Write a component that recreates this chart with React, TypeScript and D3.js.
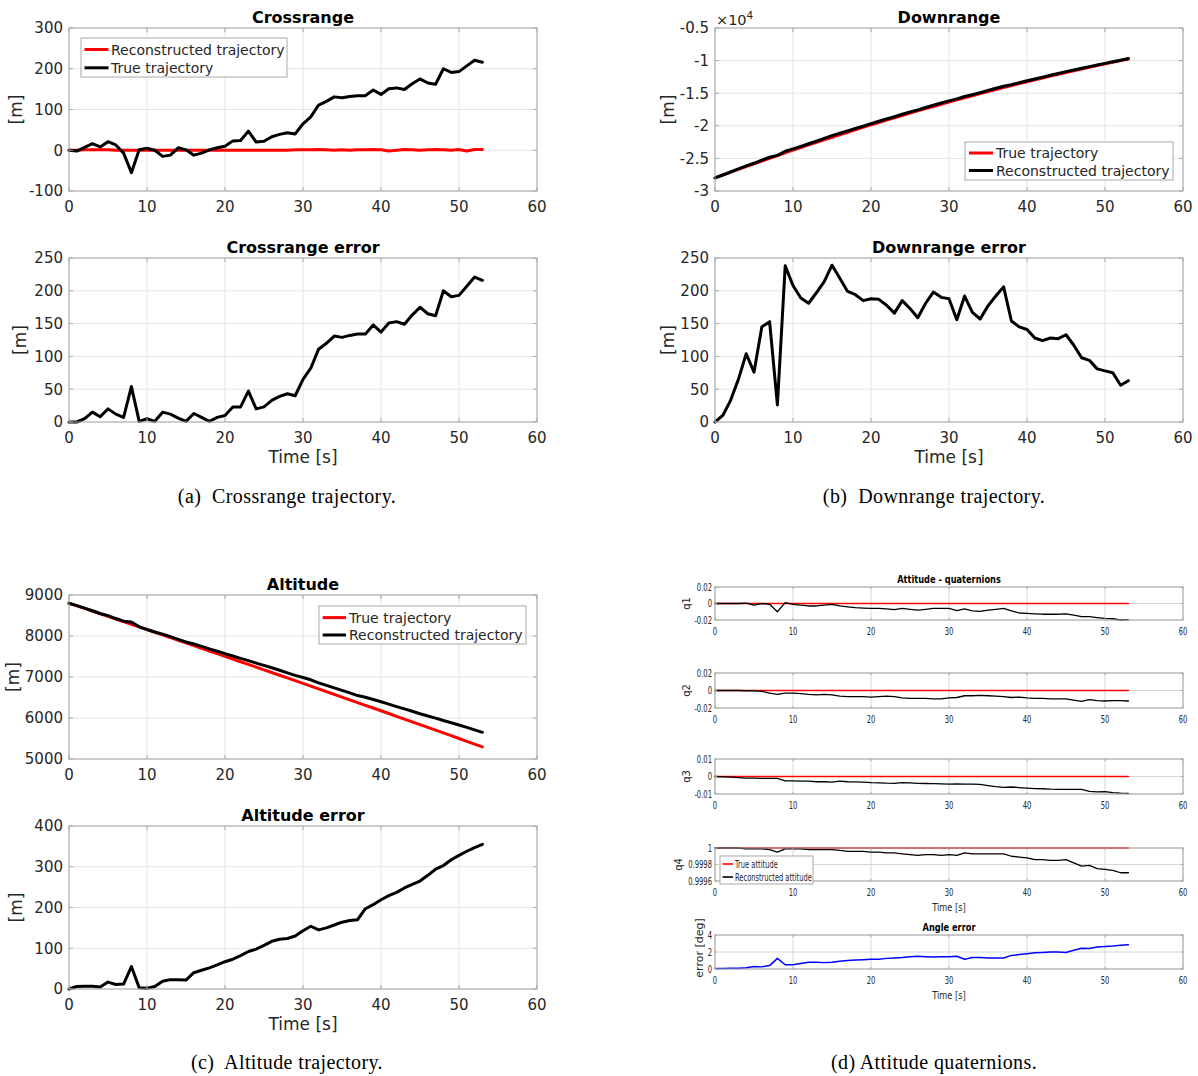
import React from "react";
import * as d3 from "d3";

// ---------------- DATA ----------------
const time = d3.range(0, 54); // seconds 0..53
const xTicks = [0, 10, 20, 30, 40, 50, 60];

const crossTrue = [0,-2,7,16,8,21,13,-7,-55,1, 5,0,-15,-12,6,1,-12,-7,1,6, 10,23,24,47,20,22,33,39,43,40, 65,82,111,120,131,129,132,134,134,148, 137,151,153,149,163,175,165,162,200,191, 193,207,221,216];
const crossRecon = [0,0,1,1,1,1,0,0,0,0, 0,0,0,0,0,0,0,0,0,0, 0,0,0,0,0,0,0,0,0,1, 1,1,2,1,0,1,0,1,1,2, 1,-2,0,2,1,0,1,2,1,0, 2,-2,2,2];
const crossErr = [0,0,5,15,8,20,12,7,54,1, 5,1,15,12,6,1,13,7,1,7, 10,23,23,47,20,23,33,39,43,40, 65,82,111,120,131,129,132,134,134,148, 137,151,153,149,163,175,165,162,200,191, 193,207,221,216];

const downTrue = [-28000,-27557,-27118,-26682,-26250,-25822,-25398,-24978,-24562,-24149, -23740,-23335,-22934,-22536,-22142,-21752,-21366,-20984,-20606,-20231, -19860,-19493,-19130,-18770,-18414,-18062,-17714,-17370,-17030,-16693, -16360,-16031,-15706,-15384,-15066,-14752,-14442,-14136,-13834,-13535, -13240,-12949,-12662,-12378,-12098,-11822,-11550,-11282,-11018,-10757, -10500,-10247,-9998,-9752];
const downRecon = [-28000,-27547,-27085,-26617,-26146,-25746,-25253,-24825,-24536,-23911, -23532,-23146,-22753,-22339,-21928,-21513,-21147,-20785,-20412,-20046, -19672,-19306,-18952,-18604,-18229,-17889,-17555,-17189,-16832,-16503, -16172,-15875,-15514,-15217,-14909,-14575,-14250,-13930,-13680,-13390, -13099,-12821,-12538,-12250,-11971,-11689,-11433,-11184,-10924,-10676, -10422,-10172,-9942,-9689];
const downErr = [0,10,33,65,104,76,145,153,26,238, 208,189,181,197,214,239,219,199,194,185, 188,187,178,166,185,173,159,181,198,190, 188,156,192,167,157,177,192,206,154,145, 141,128,124,128,127,133,117,98,94,81, 78,75,56,63];

const altTrue = [8800,8736,8672,8608,8543,8479,8415,8350,8285,8221, 8156,8091,8026,7961,7896,7831,7766,7700,7635,7570, 7504,7438,7373,7307,7241,7175,7109,7043,6977,6910, 6844,6778,6711,6644,6578,6511,6444,6377,6310,6243, 6176,6109,6041,5974,5907,5839,5771,5704,5636,5568, 5500,5432,5364,5296];
const altRecon = [8800,8742,8679,8615,8548,8496,8426,8362,8340,8224, 8158,8097,8045,7984,7919,7853,7806,7746,7687,7629, 7571,7511,7455,7399,7339,7282,7226,7165,7101,7040, 6987,6932,6856,6794,6735,6675,6612,6547,6507,6450, 6395,6338,6278,6222,6164,6104,6050,5998,5939,5885, 5828,5770,5711,5651];
const altErr = [0,6,7,7,5,17,11,12,55,3, 2,6,19,23,23,22,40,46,52,59, 67,73,82,92,98,107,117,122,124,130, 143,154,145,150,157,164,168,170,197,207, 219,229,237,248,257,265,279,294,303,317, 328,338,347,355];

const trueAttitude = [0, 0, 0, 1]; // q1..q4, constant
const q1 = [0,0,0,0,0.0005,-0.002,0,-0.001,-0.01,0.001, -0.001,-0.002,-0.003,-0.003,-0.002,-0.001,-0.003,-0.004,-0.005,-0.0055, -0.006,-0.006,-0.0065,-0.0075,-0.006,-0.007,-0.008,-0.007,-0.006,-0.006, -0.006,-0.0085,-0.0065,-0.009,-0.0095,-0.008,-0.007,-0.006,-0.009,-0.0115, -0.012,-0.0125,-0.013,-0.013,-0.013,-0.0125,-0.014,-0.016,-0.016,-0.017, -0.018,-0.0185,-0.02,-0.0195];
const q2 = [0,0,0,0,-0.0003,-0.0005,-0.001,-0.003,-0.0045,-0.003, -0.003,-0.0035,-0.0045,-0.005,-0.0045,-0.005,-0.0065,-0.007,-0.007,-0.007, -0.0075,-0.007,-0.0065,-0.007,-0.0085,-0.009,-0.009,-0.009,-0.0095,-0.0095, -0.0085,-0.008,-0.006,-0.006,-0.0055,-0.006,-0.0065,-0.007,-0.008,-0.0075, -0.0085,-0.009,-0.009,-0.0095,-0.0095,-0.0095,-0.011,-0.0125,-0.0105,-0.0115, -0.012,-0.0115,-0.0115,-0.012];
const q3 = [0,-0.0002,-0.0004,-0.0006,-0.0009,-0.0009,-0.0011,-0.0011,-0.0011,-0.0025, -0.0025,-0.0027,-0.0026,-0.003,-0.003,-0.0032,-0.0027,-0.003,-0.0031,-0.0032, -0.0035,-0.0036,-0.0038,-0.0039,-0.0035,-0.0037,-0.0039,-0.004,-0.0041,-0.0042, -0.0043,-0.0042,-0.0043,-0.0044,-0.0045,-0.0052,-0.0058,-0.0062,-0.006,-0.0063, -0.0066,-0.0069,-0.007,-0.0072,-0.0073,-0.0074,-0.0074,-0.0074,-0.0085,-0.0088, -0.0086,-0.0092,-0.0095,-0.0097];
const q4 = [1,1,1,1,0.99999,0.99999,0.99999,0.99998,0.99995,0.99999, 0.99999,0.99999,0.99998,0.99998,0.99998,0.99998,0.99997,0.99996,0.99996,0.99996, 0.99995,0.99995,0.99994,0.99994,0.99993,0.99992,0.99991,0.99992,0.99992,0.99991, 0.99992,0.99991,0.99994,0.99993,0.99993,0.99993,0.99993,0.99993,0.9999,0.99989, 0.99988,0.99986,0.99986,0.99985,0.99985,0.99986,0.99982,0.99978,0.99979,0.99975, 0.99974,0.99973,0.9997,0.9997];
const angleErr = [0.05,0.07,0.08,0.1,0.15,0.3,0.25,0.4,1.25,0.5, 0.5,0.65,0.8,0.8,0.75,0.8,0.9,1.0,1.05,1.1, 1.15,1.15,1.25,1.3,1.35,1.45,1.5,1.45,1.4,1.45, 1.45,1.5,1.15,1.35,1.35,1.3,1.3,1.3,1.6,1.7, 1.8,1.9,1.95,2.0,2.0,1.95,2.2,2.45,2.4,2.6, 2.65,2.7,2.8,2.85];

const crossTicks = [-100, 0, 100, 200, 300];
const errTicks250 = [0, 50, 100, 150, 200, 250];
const downTicks = [-30000, -25000, -20000, -15000, -10000, -5000];
const altTicks = [5000, 6000, 7000, 8000, 9000];
const altErrTicks = [0, 100, 200, 300, 400];
const qTicks2 = [-0.02, 0, 0.02];
const qTicks1 = [-0.01, 0, 0.01];
const q4Ticks = [0.9996, 0.9998, 1];
const angleTicks = [0, 2, 4];

// ---------------- STYLE ----------------
const FONT = "'DejaVu Sans', Verdana, sans-serif";
const TXT = "#262626";
const BOX = "#a8a8a8";
const RED = "#ff0000";
const BLACK = "#000000";
const BLUE = "#0000ff";

type Series = { ys: number[]; xs?: number[]; color: string; w: number };
type LegendItem = { label: string; color: string; y: number };
type Legend = { x0: number; x1: number; y0: number; y1: number; lx0: number; lx1: number; tx: number; items: LegendItem[]; fs: number; sx: number; lw: number };

type Cfg = { tick: number; label: number; title: number; xTickDy: number; yTickDx: number; titleDy: number; xlabelDy: number; sx: number; tsx: number; grid: string; tickLen: number };

const BIG: Cfg = { tick: 15, label: 17, title: 16, xTickDy: 20.5, yTickDx: 6, titleDy: 5.5, xlabelDy: 41, sx: 1, tsx: 1, grid: "#e4e4e4", tickLen: 4 };
const SMALL: Cfg = { tick: 10, label: 11, title: 11, xTickDy: 14.5, yTickDx: 3, titleDy: 4, xlabelDy: 30, sx: 0.68, tsx: 0.75, grid: "#d6d6d6", tickLen: 2 };

type PanelProps = {
  l: number; r: number; t: number; b: number;
  yDomain: [number, number]; yTicks: number[]; yFmt?: (v: number) => string;
  title?: string; ylabel?: string; ylabelX: number; ylabelFs?: number; ylabelY?: number; xlabel?: string;
  series: Series[]; legend?: Legend; cfg: Cfg;
};

function Panel(p: PanelProps) {
  const c = p.cfg;
  const x = d3.scaleLinear().domain([0, 60]).range([p.l, p.r]);
  const y = d3.scaleLinear().domain(p.yDomain).range([p.b, p.t]);
  const fmt = p.yFmt || ((v: number) => String(v));
  const cx = (p.l + p.r) / 2;
  const cy = p.ylabelY ?? (p.t + p.b) / 2;
  return (
    <g>
      <rect x={p.l} y={p.t} width={p.r - p.l} height={p.b - p.t} fill="#fff" />
      {xTicks.map((v) => (
        <line key={"gx" + v} x1={x(v)} x2={x(v)} y1={p.t} y2={p.b} stroke={c.grid} strokeWidth={1} />
      ))}
      {p.yTicks.map((v) => (
        <line key={"gy" + v} x1={p.l} x2={p.r} y1={y(v)} y2={y(v)} stroke={c.grid} strokeWidth={1} />
      ))}
      {p.series.map((s, i) => {
        const xs = s.xs || time;
        const pts: [number, number][] = s.ys.map((v, j) => [x(xs[j]), y(v)]);
        const path = d3.line()(pts) || "";
        return <path key={"s" + i} d={path} fill="none" stroke={s.color} strokeWidth={s.w} strokeLinejoin="round" strokeLinecap="round" />;
      })}
      <rect x={p.l} y={p.t} width={p.r - p.l} height={p.b - p.t} fill="none" stroke={BOX} strokeWidth={1} />
      {xTicks.map((v) => (
        <g key={"tx" + v}>
          <line x1={x(v)} x2={x(v)} y1={p.b} y2={p.b - c.tickLen} stroke={BOX} />
          <line x1={x(v)} x2={x(v)} y1={p.t} y2={p.t + c.tickLen} stroke={BOX} />
          <text transform={`translate(${x(v)},${p.b + c.xTickDy}) scale(${c.sx},1)`} textAnchor="middle" fontSize={c.tick} fill={TXT} fontFamily={FONT}>{String(v)}</text>
        </g>
      ))}
      {p.yTicks.map((v) => (
        <g key={"ty" + v}>
          <line x1={p.l} x2={p.l + c.tickLen} y1={y(v)} y2={y(v)} stroke={BOX} />
          <line x1={p.r} x2={p.r - c.tickLen} y1={y(v)} y2={y(v)} stroke={BOX} />
          <text transform={`translate(${p.l - c.yTickDx},${y(v)}) scale(${c.sx},1)`} dy="0.36em" textAnchor="end" fontSize={c.tick} fill={TXT} fontFamily={FONT}>{fmt(v)}</text>
        </g>
      ))}
      {p.title && (
        <text transform={`translate(${cx},${p.t - c.titleDy}) scale(${c.tsx},1)`} textAnchor="middle" fontSize={c.title} fontWeight="bold" fill="#000" fontFamily={FONT}>{p.title}</text>
      )}
      {p.xlabel && (
        <text transform={`translate(${cx},${p.b + c.xlabelDy}) scale(${c.tsx},1)`} textAnchor="middle" fontSize={c.label} fill={TXT} fontFamily={FONT}>{p.xlabel}</text>
      )}
      {p.ylabel && (
        <text transform={`translate(${p.ylabelX},${cy}) rotate(-90)`} dy="0.35em" textAnchor="middle" fontSize={p.ylabelFs ?? c.label} fill={TXT} fontFamily={FONT}>{p.ylabel}</text>
      )}
      {p.legend && (
        <g>
          <rect x={p.legend.x0} y={p.legend.y0} width={p.legend.x1 - p.legend.x0} height={p.legend.y1 - p.legend.y0} fill="#fff" stroke={BOX} strokeWidth={1} />
          {p.legend.items.map((it, i) => (
            <g key={"lg" + i}>
              <line x1={p.legend!.lx0} x2={p.legend!.lx1} y1={it.y} y2={it.y} stroke={it.color} strokeWidth={p.legend!.lw} />
              <text transform={`translate(${p.legend!.tx},${it.y}) scale(${p.legend!.sx},1)`} dy="0.36em" fontSize={p.legend!.fs} fill={TXT} fontFamily={FONT}>{it.label}</text>
            </g>
          ))}
        </g>
      )}
    </g>
  );
}

const fmtE4 = (v: number) => String(v / 1e4);
const fmtSmall = (v: number) => String(+v.toFixed(4));

function Caption({ x, y, text }: { x: number; y: number; text: string }) {
  return (
    <text x={x} y={y} textAnchor="middle" fontSize={20} letterSpacing={0.4} fill="#000" fontFamily="'Liberation Serif', 'Times New Roman', serif" style={{ whiteSpace: "pre" }}>{text}</text>
  );
}

export default function App() {
  const tEnds = [time[0], time[time.length - 1]];
  const flat = (v: number) => [v, v];
  return (
    <svg width={1198} height={1076} style={{ position: "absolute", left: 0, top: 0, background: "#fff" }}>
      <rect x={0} y={0} width={1198} height={1076} fill="#fff" />
      {/* (a) Crossrange */}
      <Panel cfg={BIG} l={69} r={537} t={28} b={191} yDomain={[-100, 300]} yTicks={crossTicks}
        title="Crossrange" ylabel="[m]" ylabelX={16}
        series={[{ ys: crossRecon, color: RED, w: 3 }, { ys: crossTrue, color: BLACK, w: 3 }]}
        legend={{ x0: 81, x1: 287, y0: 38, y1: 77, lx0: 84.5, lx1: 108.5, tx: 111, fs: 14, sx: 1, lw: 3,
          items: [{ label: "Reconstructed trajectory", color: RED, y: 49.5 }, { label: "True trajectory", color: BLACK, y: 67.8 }] }} />
      <Panel cfg={BIG} l={69} r={537} t={258} b={422} yDomain={[0, 250]} yTicks={errTicks250}
        title="Crossrange error" ylabel="[m]" ylabelX={20} xlabel="Time [s]"
        series={[{ ys: crossErr, color: BLACK, w: 3 }]} />
      <Caption x={287} y={503} text="(a)  Crossrange trajectory." />

      {/* (b) Downrange */}
      <Panel cfg={BIG} l={715} r={1183} t={28} b={191} yDomain={[-30000, -5000]} yTicks={downTicks} yFmt={fmtE4}
        title="Downrange" ylabel="[m]" ylabelX={668}
        series={[{ ys: downTrue, color: RED, w: 3 }, { ys: downRecon, color: BLACK, w: 3 }]}
        legend={{ x0: 965, x1: 1173, y0: 142, y1: 180, lx0: 969, lx1: 993, tx: 996, fs: 14, sx: 1, lw: 3,
          items: [{ label: "True trajectory", color: RED, y: 153 }, { label: "Reconstructed trajectory", color: BLACK, y: 170.5 }] }} />
      <text x={716} y={25} fontSize={14.5} fill={TXT} fontFamily={FONT}>×10<tspan dy={-6} fontSize={10.5}>4</tspan></text>
      <Panel cfg={BIG} l={715} r={1183} t={258} b={422} yDomain={[0, 250]} yTicks={errTicks250}
        title="Downrange error" ylabel="[m]" ylabelX={668} xlabel="Time [s]"
        series={[{ ys: downErr, color: BLACK, w: 3 }]} />
      <Caption x={934} y={503} text="(b)  Downrange trajectory." />

      {/* (c) Altitude */}
      <Panel cfg={BIG} l={69} r={537} t={595} b={759} yDomain={[5000, 9000]} yTicks={altTicks}
        title="Altitude" ylabel="[m]" ylabelX={13}
        series={[{ ys: altTrue, color: RED, w: 3 }, { ys: altRecon, color: BLACK, w: 3 }]}
        legend={{ x0: 319, x1: 526, y0: 606, y1: 644, lx0: 322.7, lx1: 346, tx: 349, fs: 14, sx: 1, lw: 3,
          items: [{ label: "True trajectory", color: RED, y: 617.6 }, { label: "Reconstructed trajectory", color: BLACK, y: 635 }] }} />
      <Panel cfg={BIG} l={69} r={537} t={826} b={989} yDomain={[0, 400]} yTicks={altErrTicks}
        title="Altitude error" ylabel="[m]" ylabelX={16} xlabel="Time [s]"
        series={[{ ys: altErr, color: BLACK, w: 3 }]} />
      <Caption x={287} y={1069} text="(c)  Altitude trajectory." />

      {/* (d) Attitude quaternions */}
      <Panel cfg={SMALL} l={715} r={1183} t={587} b={620} yDomain={[-0.02, 0.02]} yTicks={qTicks2} yFmt={fmtSmall}
        title="Attitude - quaternions" ylabel="q1" ylabelX={686} ylabelFs={10}
        series={[{ xs: tEnds, ys: flat(trueAttitude[0]), color: RED, w: 1.6 }, { ys: q1, color: BLACK, w: 1.3 }]} />
      <Panel cfg={SMALL} l={715} r={1183} t={673} b={708} yDomain={[-0.02, 0.02]} yTicks={qTicks2} yFmt={fmtSmall}
        ylabel="q2" ylabelX={686} ylabelFs={10}
        series={[{ xs: tEnds, ys: flat(trueAttitude[1]), color: RED, w: 1.6 }, { ys: q2, color: BLACK, w: 1.3 }]} />
      <Panel cfg={SMALL} l={715} r={1183} t={759} b={794} yDomain={[-0.01, 0.01]} yTicks={qTicks1} yFmt={fmtSmall}
        ylabel="q3" ylabelX={686} ylabelFs={10}
        series={[{ xs: tEnds, ys: flat(trueAttitude[2]), color: RED, w: 1.6 }, { ys: q3, color: BLACK, w: 1.3 }]} />
      <Panel cfg={SMALL} l={715} r={1183} t={848} b={881} yDomain={[0.9996, 1]} yTicks={q4Ticks} yFmt={fmtSmall}
        ylabel="q4" ylabelX={678} ylabelFs={10} xlabel="Time [s]"
        series={[{ xs: tEnds, ys: flat(trueAttitude[3]), color: RED, w: 1.6 }, { ys: q4, color: BLACK, w: 1.3 }]}
        legend={{ x0: 720, x1: 813, y0: 856, y1: 884, lx0: 722.5, lx1: 733, tx: 735, fs: 10, sx: 0.67, lw: 1.6,
          items: [{ label: "True attitude", color: RED, y: 864 }, { label: "Reconstructed attitude", color: BLACK, y: 877 }] }} />
      <Panel cfg={SMALL} l={715} r={1183} t={935} b={969} yDomain={[0, 4]} yTicks={angleTicks}
        title="Angle error" ylabel="error [deg]" ylabelX={699} ylabelFs={11} ylabelY={948} xlabel="Time [s]"
        series={[{ ys: angleErr, color: BLUE, w: 1.5 }]} />
      <Caption x={934} y={1069} text="(d) Attitude quaternions." />
    </svg>
  );
}
